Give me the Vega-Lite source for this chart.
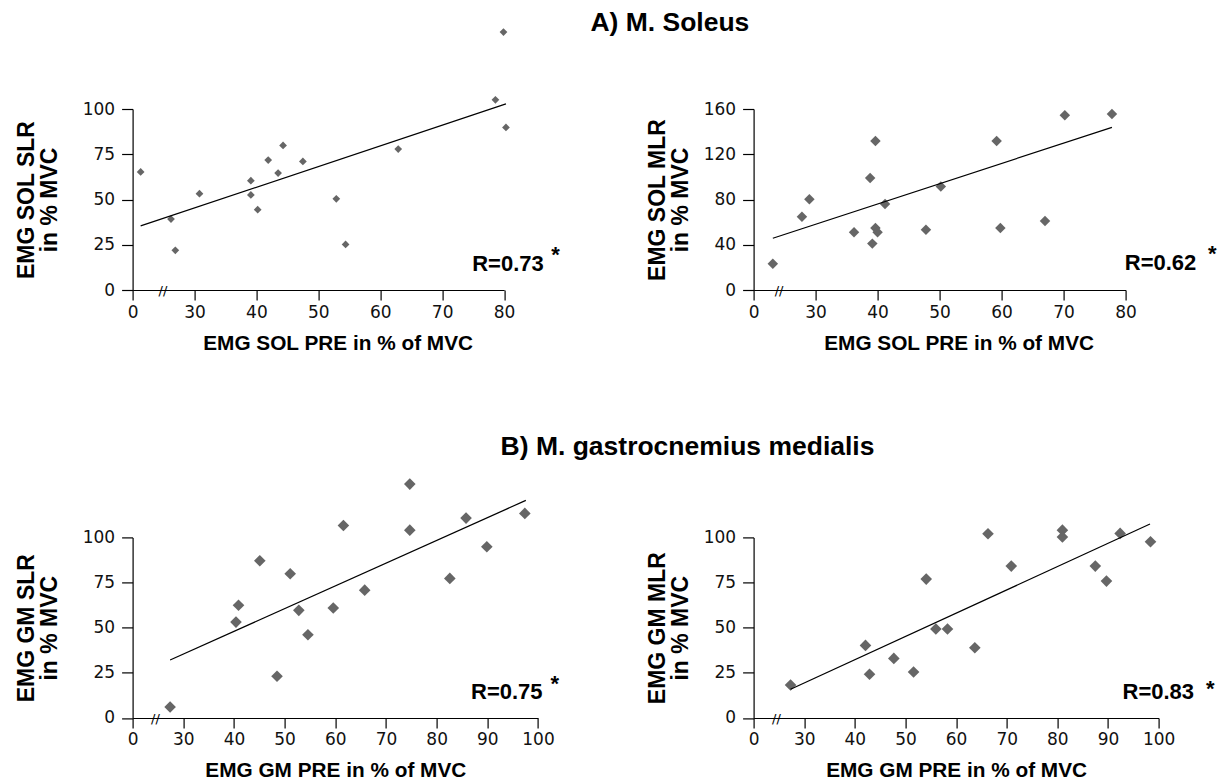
{
  "$schema": "https://vega.github.io/schema/vega-lite/v6.json",
  "autosize": {"type": "pad"},
  "padding": {"left": 15.6, "top": 9, "right": 0, "bottom": 0},
  "background": "white",
  "config": {
    "view": {"stroke": null},
    "axis": {
      "grid": false,
      "domainColor": "#000",
      "domainWidth": 1.2,
      "tickColor": "#000",
      "tickWidth": 1.2,
      "labelFont": "DejaVu Sans",
      "labelFontSize": 17,
      "labelColor": "#111",
      "labelFlush": false,
      "labelOverlap": false,
      "titleFont": "Liberation Sans",
      "titleFontWeight": "bold",
      "titleColor": "#000"
    },
    "axisX": {"tickSize": 10, "labelPadding": 4, "titleFontSize": 20.8, "titlePadding": 13},
    "axisY": {"tickSize": 11, "labelPadding": 7, "titleFontSize": 23, "titleLineHeight": 23},
    "title": {"font": "Liberation Sans", "fontSize": 26.5, "fontWeight": "bold", "color": "#000"},
    "text": {"font": "Liberation Sans", "fontWeight": "bold", "fontSize": 22, "color": "#000"}
  },
  "datasets": {
    "solSLR": [
      {"pre": 21.3, "post": 65.2}, {"pre": 26.2, "post": 39.2}, {"pre": 26.9, "post": 21.9},
      {"pre": 30.8, "post": 53.2}, {"pre": 39.1, "post": 60.4}, {"pre": 39.1, "post": 52.5},
      {"pre": 40.2, "post": 44.4}, {"pre": 41.9, "post": 71.8}, {"pre": 43.5, "post": 64.6},
      {"pre": 44.3, "post": 79.9}, {"pre": 47.5, "post": 71.0}, {"pre": 52.9, "post": 50.4},
      {"pre": 54.4, "post": 25.2}, {"pre": 62.9, "post": 77.9}, {"pre": 78.6, "post": 105.1},
      {"pre": 79.9, "post": 142.5}, {"pre": 80.3, "post": 89.8}
    ],
    "solSLRfit": [{"pre": 21.3, "post": 35.4}, {"pre": 80.3, "post": 102.8}],
    "solMLR": [
      {"pre": 23.1, "post": 23.3}, {"pre": 27.8, "post": 64.8}, {"pre": 29.0, "post": 80.2},
      {"pre": 36.2, "post": 51.0}, {"pre": 38.8, "post": 99.0}, {"pre": 39.15, "post": 41.0},
      {"pre": 39.65, "post": 131.7}, {"pre": 39.65, "post": 54.8}, {"pre": 40.0, "post": 51.0},
      {"pre": 41.2, "post": 76.0}, {"pre": 47.8, "post": 53.3}, {"pre": 50.2, "post": 91.4},
      {"pre": 59.2, "post": 131.7}, {"pre": 59.8, "post": 54.8}, {"pre": 67.0, "post": 61.0},
      {"pre": 70.2, "post": 154.4}, {"pre": 77.8, "post": 155.6}
    ],
    "solMLRfit": [{"pre": 23.1, "post": 45.7}, {"pre": 77.8, "post": 143.8}],
    "gmSLR": [
      {"pre": 27.4, "post": 6.1}, {"pre": 40.4, "post": 53.1}, {"pre": 40.9, "post": 62.4},
      {"pre": 45.1, "post": 87.1}, {"pre": 48.5, "post": 23.1}, {"pre": 51.1, "post": 79.9},
      {"pre": 52.8, "post": 59.6}, {"pre": 54.6, "post": 46.1}, {"pre": 59.6, "post": 60.9},
      {"pre": 61.6, "post": 106.6}, {"pre": 65.8, "post": 70.8}, {"pre": 74.7, "post": 129.5},
      {"pre": 74.7, "post": 104.0}, {"pre": 82.6, "post": 77.3}, {"pre": 85.8, "post": 110.7},
      {"pre": 89.9, "post": 94.8}, {"pre": 97.4, "post": 113.3}
    ],
    "gmSLRfit": [{"pre": 27.4, "post": 32.1}, {"pre": 97.6, "post": 120.5}],
    "gmMLR": [
      {"pre": 27.3, "post": 18.3}, {"pre": 42.1, "post": 40.2}, {"pre": 42.9, "post": 24.2},
      {"pre": 47.7, "post": 33.0}, {"pre": 51.6, "post": 25.5}, {"pre": 54.1, "post": 76.9},
      {"pre": 56.0, "post": 49.3}, {"pre": 58.3, "post": 49.3}, {"pre": 63.7, "post": 38.9},
      {"pre": 66.3, "post": 102.0}, {"pre": 70.9, "post": 84.1}, {"pre": 81.0, "post": 104.0},
      {"pre": 81.0, "post": 100.2}, {"pre": 87.5, "post": 84.1}, {"pre": 89.7, "post": 75.8},
      {"pre": 92.4, "post": 102.2}, {"pre": 98.4, "post": 97.6}
    ],
    "gmMLRfit": [{"pre": 27.3, "post": 15.9}, {"pre": 98.3, "post": 107.4}]
  },
  "columns": 2,
  "bounds": "flush",
  "spacing": {"row": 247.4, "column": 215},
  "concat": [
    {
      "width": 371.5,
      "height": 181,
      "title": {"text": "A) M. Soleus", "anchor": "middle", "frame": "group", "dx": 351.5, "offset": -8.1},
      "layer": [
        {
          "data": {"name": "solSLR"},
          "mark": {"type": "point", "shape": "diamond", "filled": true, "color": "#666", "opacity": 1, "size": 60},
          "encoding": {
            "x": {"field": "pre", "type": "quantitative", "scale": {"domain": [20, 80], "nice": false, "zero": false},
              "axis": {"values": [20, 30, 40, 50, 60, 70, 80], "labelExpr": "datum.value == 20 ? '0' : datum.label", "title": "EMG SOL PRE in % of MVC", "titleX": 205}},
            "y": {"field": "post", "type": "quantitative", "scale": {"domain": [0, 100], "nice": false},
              "axis": {"values": [0, 25, 50, 75, 100], "title": ["EMG SOL SLR", "in % MVC"], "titlePadding": 20.5}}
          }
        },
        {
          "data": {"name": "solSLRfit"},
          "mark": {"type": "line", "color": "#000", "strokeWidth": 1.2},
          "encoding": {"x": {"field": "pre", "type": "quantitative"}, "y": {"field": "post", "type": "quantitative"}}
        },
        {
          "data": {"values": [{}]},
          "mark": {"type": "text", "text": "R=0.73", "align": "right", "baseline": "alphabetic"},
          "encoding": {"x": {"datum": 86.4}, "y": {"datum": 10.3}}
        },
        {
          "data": {"values": [{}]},
          "mark": {"type": "text", "text": "*", "align": "center", "baseline": "alphabetic"},
          "encoding": {"x": {"datum": 88.3}, "y": {"datum": 15.2}}
        },
        {
          "data": {"values": [{}]},
          "mark": {"type": "text", "text": "//", "font": "DejaVu Sans", "fontWeight": "normal", "fontSize": 13, "align": "center", "baseline": "middle", "dy": 1},
          "encoding": {"x": {"datum": 24.9}, "y": {"datum": 0}}
        }
      ]
    },
    {
      "width": 372,
      "height": 181,
      "layer": [
        {
          "data": {"name": "solMLR"},
          "mark": {"type": "point", "shape": "diamond", "filled": true, "color": "#666", "opacity": 1, "size": 110},
          "encoding": {
            "x": {"field": "pre", "type": "quantitative", "scale": {"domain": [20, 80], "nice": false, "zero": false},
              "axis": {"values": [20, 30, 40, 50, 60, 70, 80], "labelExpr": "datum.value == 20 ? '0' : datum.label", "title": "EMG SOL PRE in % of MVC", "titleX": 205}},
            "y": {"field": "post", "type": "quantitative", "scale": {"domain": [0, 160], "nice": false},
              "axis": {"values": [0, 40, 80, 120, 160], "title": ["EMG SOL MLR", "in % MVC"], "titlePadding": 10.7}}
          }
        },
        {
          "data": {"name": "solMLRfit"},
          "mark": {"type": "line", "color": "#000", "strokeWidth": 1.2},
          "encoding": {"x": {"field": "pre", "type": "quantitative"}, "y": {"field": "post", "type": "quantitative"}}
        },
        {
          "data": {"values": [{}]},
          "mark": {"type": "text", "text": "R=0.62", "align": "right", "baseline": "alphabetic"},
          "encoding": {"x": {"datum": 91.4}, "y": {"datum": 17.4}}
        },
        {
          "data": {"values": [{}]},
          "mark": {"type": "text", "text": "*", "align": "center", "baseline": "alphabetic"},
          "encoding": {"x": {"datum": 94.0}, "y": {"datum": 25.5}}
        },
        {
          "data": {"values": [{}]},
          "mark": {"type": "text", "text": "//", "font": "DejaVu Sans", "fontWeight": "normal", "fontSize": 13, "align": "center", "baseline": "middle", "dy": 1},
          "encoding": {"x": {"datum": 24.1}, "y": {"datum": 0}}
        }
      ]
    },
    {
      "width": 405.4,
      "height": 180.6,
      "title": {"text": "B) M. gastrocnemius medialis", "anchor": "middle", "frame": "group", "dx": 352.2, "offset": 17.4},
      "layer": [
        {
          "data": {"name": "gmSLR"},
          "mark": {"type": "point", "shape": "diamond", "filled": true, "color": "#666", "opacity": 1, "size": 135},
          "encoding": {
            "x": {"field": "pre", "type": "quantitative", "scale": {"domain": [20, 100], "nice": false, "zero": false},
              "axis": {"values": [20, 30, 40, 50, 60, 70, 80, 90, 100], "labelExpr": "datum.value == 20 ? '0' : datum.label", "title": "EMG GM PRE in % of MVC"}},
            "y": {"field": "post", "type": "quantitative", "scale": {"domain": [0, 100], "nice": false},
              "axis": {"values": [0, 25, 50, 75, 100], "title": ["EMG GM SLR", "in % MVC"], "titlePadding": 20.5}}
          }
        },
        {
          "data": {"name": "gmSLRfit"},
          "mark": {"type": "line", "color": "#000", "strokeWidth": 1.2},
          "encoding": {"x": {"field": "pre", "type": "quantitative"}, "y": {"field": "post", "type": "quantitative"}}
        },
        {
          "data": {"values": [{}]},
          "mark": {"type": "text", "text": "R=0.75", "align": "right", "baseline": "alphabetic"},
          "encoding": {"x": {"datum": 100.9}, "y": {"datum": 10.5}}
        },
        {
          "data": {"values": [{}]},
          "mark": {"type": "text", "text": "*", "align": "center", "baseline": "alphabetic"},
          "encoding": {"x": {"datum": 103.3}, "y": {"datum": 14.7}}
        },
        {
          "data": {"values": [{}]},
          "mark": {"type": "text", "text": "//", "font": "DejaVu Sans", "fontWeight": "normal", "fontSize": 13, "align": "center", "baseline": "middle", "dy": 1},
          "encoding": {"x": {"datum": 24.5}, "y": {"datum": 0}}
        }
      ]
    },
    {
      "width": 405,
      "height": 180.6,
      "layer": [
        {
          "data": {"name": "gmMLR"},
          "mark": {"type": "point", "shape": "diamond", "filled": true, "color": "#666", "opacity": 1, "size": 135},
          "encoding": {
            "x": {"field": "pre", "type": "quantitative", "scale": {"domain": [20, 100], "nice": false, "zero": false},
              "axis": {"values": [20, 30, 40, 50, 60, 70, 80, 90, 100], "labelExpr": "datum.value == 20 ? '0' : datum.label", "title": "EMG GM PRE in % of MVC"}},
            "y": {"field": "post", "type": "quantitative", "scale": {"domain": [0, 100], "nice": false},
              "axis": {"values": [0, 25, 50, 75, 100], "title": ["EMG GM MLR", "in % MVC"], "titlePadding": 10.7}}
          }
        },
        {
          "data": {"name": "gmMLRfit"},
          "mark": {"type": "line", "color": "#000", "strokeWidth": 1.2},
          "encoding": {"x": {"field": "pre", "type": "quantitative"}, "y": {"field": "post", "type": "quantitative"}}
        },
        {
          "data": {"values": [{}]},
          "mark": {"type": "text", "text": "R=0.83", "align": "right", "baseline": "alphabetic"},
          "encoding": {"x": {"datum": 107.0}, "y": {"datum": 10.5}}
        },
        {
          "data": {"values": [{}]},
          "mark": {"type": "text", "text": "*", "align": "center", "baseline": "alphabetic"},
          "encoding": {"x": {"datum": 110.2}, "y": {"datum": 12.3}}
        },
        {
          "data": {"values": [{}]},
          "mark": {"type": "text", "text": "//", "font": "DejaVu Sans", "fontWeight": "normal", "fontSize": 13, "align": "center", "baseline": "middle", "dy": 1},
          "encoding": {"x": {"datum": 24.5}, "y": {"datum": 0}}
        }
      ]
    }
  ]
}
